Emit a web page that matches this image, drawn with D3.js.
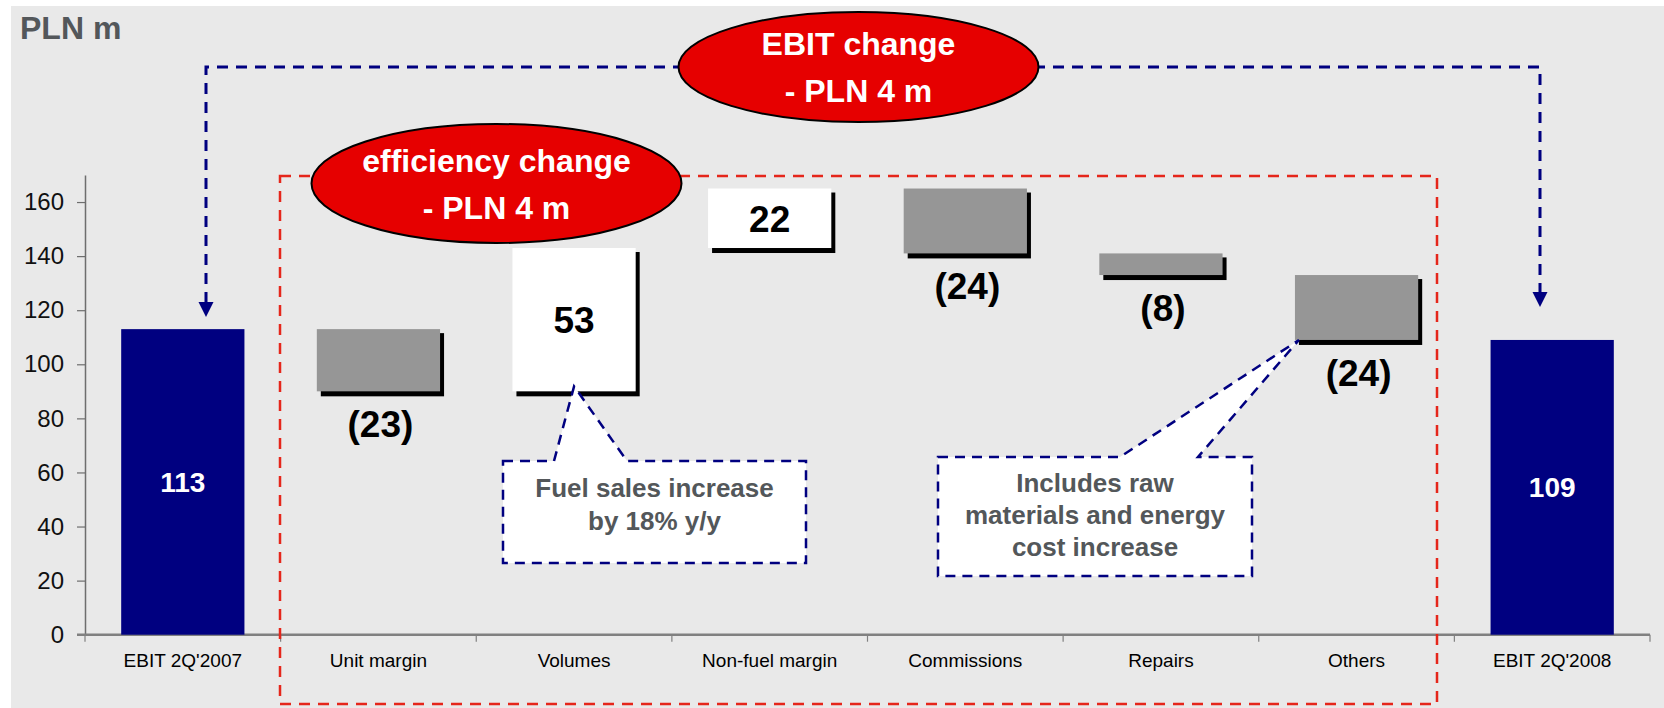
<!DOCTYPE html>
<html>
<head>
<meta charset="utf-8">
<script src="https://cdn.jsdelivr.net/npm/d3@7"></script>
<style>
  html, body { margin: 0; padding: 0; background: #ffffff; }
  svg { display: block; }
</style>
</head>
<body>
<svg id="chart" width="1664" height="708"></svg>
<script>
// ---------- data ----------
const categories = ["EBIT 2Q'2007", "Unit margin", "Volumes", "Non-fuel margin", "Commissions", "Repairs", "Others", "EBIT 2Q'2008"];
const values = [113, -23, 53, 22, -24, -8, -24, 109];
const kinds = ["total", "delta", "delta", "delta", "delta", "delta", "delta", "total"];
const valueLabels = ["113", "(23)", "53", "22", "(24)", "(8)", "(24)", "109"];
const yTicks = [0, 20, 40, 60, 80, 100, 120, 140, 160];
const unitLabel = "PLN m";
const ebitBubble = ["EBIT change", "- PLN 4 m"];
const efficiencyBubble = ["efficiency change", "- PLN 4 m"];
const fuelNote = ["Fuel sales increase", "by 18% y/y"];
const othersNote = ["Includes raw", "materials and energy", "cost increase"];

// ---------- waterfall geometry from data ----------
let running = 0;
const bars = categories.map((c, i) => {
  let start, end;
  if (kinds[i] === "total") { start = 0; end = values[i]; running = values[i]; }
  else { start = running; end = running + values[i]; running = end; }
  return { cat: c, v: values[i], kind: kinds[i], start, end, label: valueLabels[i],
           lo: Math.min(start, end), hi: Math.max(start, end) };
});

const FONT = "'Liberation Sans', Arial, Helvetica, sans-serif";
const svg = d3.select("#chart");

const x = d3.scaleBand().domain(categories).range([85, 1650]).paddingInner(0.37).paddingOuter(0.185);
const y = d3.scaleLinear().domain([0, 170]).range([634.7, 175]);

// background panel
svg.append("rect").attr("x", 11).attr("y", 6).attr("width", 1664 - 11).attr("height", 708 - 6).attr("fill", "#e9e9e9");

// unit label
svg.append("text").attr("x", 20).attr("y", 39).text(unitLabel)
  .style("font-family", FONT).style("font-weight", "bold").style("font-size", "32px").attr("fill", "#53575a");

// y axis
const yAxis = svg.append("g").attr("transform", "translate(85,0)")
  .call(d3.axisLeft(y).tickValues(yTicks).tickSize(8).tickSizeOuter(0).tickPadding(13));
yAxis.attr("font-size", null).attr("font-family", null);
yAxis.select(".domain").attr("stroke", "#6e6e6e").attr("stroke-width", 1.5);
yAxis.selectAll(".tick line").attr("stroke", "#6e6e6e").attr("stroke-width", 1.2);
yAxis.selectAll(".tick text").style("font-family", FONT).style("font-size", "24px").attr("fill", "#111");

// x axis labels
const xAxis = svg.append("g").attr("transform", `translate(0,${y(0)})`)
  .call(d3.axisBottom(x).tickSize(0).tickPadding(0));
xAxis.attr("font-size", null).attr("font-family", null);
xAxis.select(".domain").remove();
xAxis.selectAll(".tick text").style("font-family", FONT).style("font-size", "19px").attr("fill", "#000")
  .attr("y", 32.3).attr("dy", 0);

// baseline and category boundary ticks
svg.append("line").attr("x1", 77).attr("x2", 1650).attr("y1", y(0)).attr("y2", y(0))
  .attr("stroke", "#808080").attr("stroke-width", 2.5);
const step = x.step();
const bounds = d3.range(categories.length + 1).map(i => x.range()[0] + i * step);
svg.append("g").selectAll("line").data(bounds).join("line")
  .attr("x1", d => d).attr("x2", d => d).attr("y1", y(0)).attr("y2", y(0) + 7)
  .attr("stroke", "#808080").attr("stroke-width", 1.2);

// red dashed efficiency box
svg.append("rect").attr("x", 280).attr("y", 176).attr("width", 1437 - 280).attr("height", 704 - 176)
  .attr("fill", "none").attr("stroke", "#e5261b").attr("stroke-width", 2.5).attr("stroke-dasharray", "11,8");

// bars
const deltas = bars.filter(d => d.kind === "delta");
svg.append("g").selectAll("rect").data(deltas).join("rect")
  .attr("x", d => x(d.cat) + 4).attr("y", d => y(d.hi) + 4)
  .attr("width", x.bandwidth()).attr("height", d => y(d.lo) - y(d.hi) + 1)
  .attr("fill", "#000");
svg.append("g").selectAll("rect").data(deltas).join("rect")
  .attr("x", d => x(d.cat)).attr("y", d => y(d.hi))
  .attr("width", x.bandwidth()).attr("height", d => y(d.lo) - y(d.hi))
  .attr("fill", d => d.v >= 0 ? "#ffffff" : "#969696");
const totals = bars.filter(d => d.kind === "total");
svg.append("g").selectAll("rect").data(totals).join("rect")
  .attr("x", d => x(d.cat)).attr("y", d => y(d.hi))
  .attr("width", x.bandwidth()).attr("height", d => y(0) - y(d.hi))
  .attr("fill", "#000080");

// value labels
svg.append("g").selectAll("text").data(totals).join("text")
  .attr("x", d => x(d.cat) + x.bandwidth() / 2).attr("y", d => (y(d.hi) + y(0)) / 2)
  .attr("dy", "0.36em").attr("text-anchor", "middle")
  .style("font-family", FONT).style("font-weight", "bold").style("font-size", "28px").attr("fill", "#fff")
  .text(d => d.label);
svg.append("g").selectAll("text").data(deltas).join("text")
  .attr("x", d => x(d.cat) + x.bandwidth() / 2 + (d.v >= 0 ? 0 : 2))
  .attr("y", d => d.v >= 0 ? (y(d.hi) + y(d.lo)) / 2 : y(d.lo) + 46)
  .attr("dy", d => d.v >= 0 ? "0.36em" : 0).attr("text-anchor", "middle")
  .style("font-family", FONT).style("font-weight", "bold").style("font-size", "37px").attr("fill", "#000")
  .text(d => d.label);

// blue EBIT connector
const NAVY = "#000080";
const leftX = 206, rightX = 1540, topY = 67;
const leftTip = 317, rightTip = 307;
svg.append("path")
  .attr("d", `M${leftX},${leftTip - 14}V${topY}H${rightX}V${rightTip - 15}`)
  .attr("fill", "none").attr("stroke", NAVY).attr("stroke-width", 3).attr("stroke-dasharray", "11,8");
[[leftX, leftTip], [rightX, rightTip]].forEach(([ax, ay]) => {
  svg.append("path").attr("d", `M${ax - 7.5},${ay - 15}L${ax + 7.5},${ay - 15}L${ax},${ay}Z`).attr("fill", NAVY);
});

// bubbles
function bubble(cx, cy, rx, ry, lines, baselines) {
  svg.append("ellipse").attr("cx", cx).attr("cy", cy).attr("rx", rx).attr("ry", ry)
    .attr("fill", "#e60000").attr("stroke", "#000").attr("stroke-width", 2);
  lines.forEach((t, i) => svg.append("text").attr("x", cx).attr("y", baselines[i]).attr("text-anchor", "middle")
    .style("font-family", FONT).style("font-weight", "bold").style("font-size", "32px").attr("fill", "#fff").text(t));
}
bubble(858.5, 67, 180, 55, ebitBubble, [55, 102]);
bubble(496.5, 183.5, 185, 59.5, efficiencyBubble, [172, 219]);

// callouts
function callout(x0, y0, x1, y1, p0, p1, tip, lines, baselines) {
  svg.append("path")
    .attr("d", `M${x0},${y0}L${p0},${y0}L${tip[0]},${tip[1]}L${p1},${y0}L${x1},${y0}L${x1},${y1}L${x0},${y1}Z`)
    .attr("fill", "#fff").attr("stroke", NAVY).attr("stroke-width", 2.5).attr("stroke-dasharray", "10,7");
  lines.forEach((t, i) => svg.append("text").attr("x", (x0 + x1) / 2).attr("y", baselines[i]).attr("text-anchor", "middle")
    .style("font-family", FONT).style("font-weight", "bold").style("font-size", "26px").attr("fill", "#53575a").text(t));
}
const vol = bars[2], oth = bars[6];
callout(503, 461, 806, 563, 554, 627, [x(vol.cat) + x.bandwidth() / 2, y(vol.lo) - 5], fuelNote, [497, 530]);
callout(938, 457, 1252, 576, 1120, 1198, [x(oth.cat) + 4, y(oth.lo)], othersNote, [492, 524, 556]);
</script>
</body>
</html>
